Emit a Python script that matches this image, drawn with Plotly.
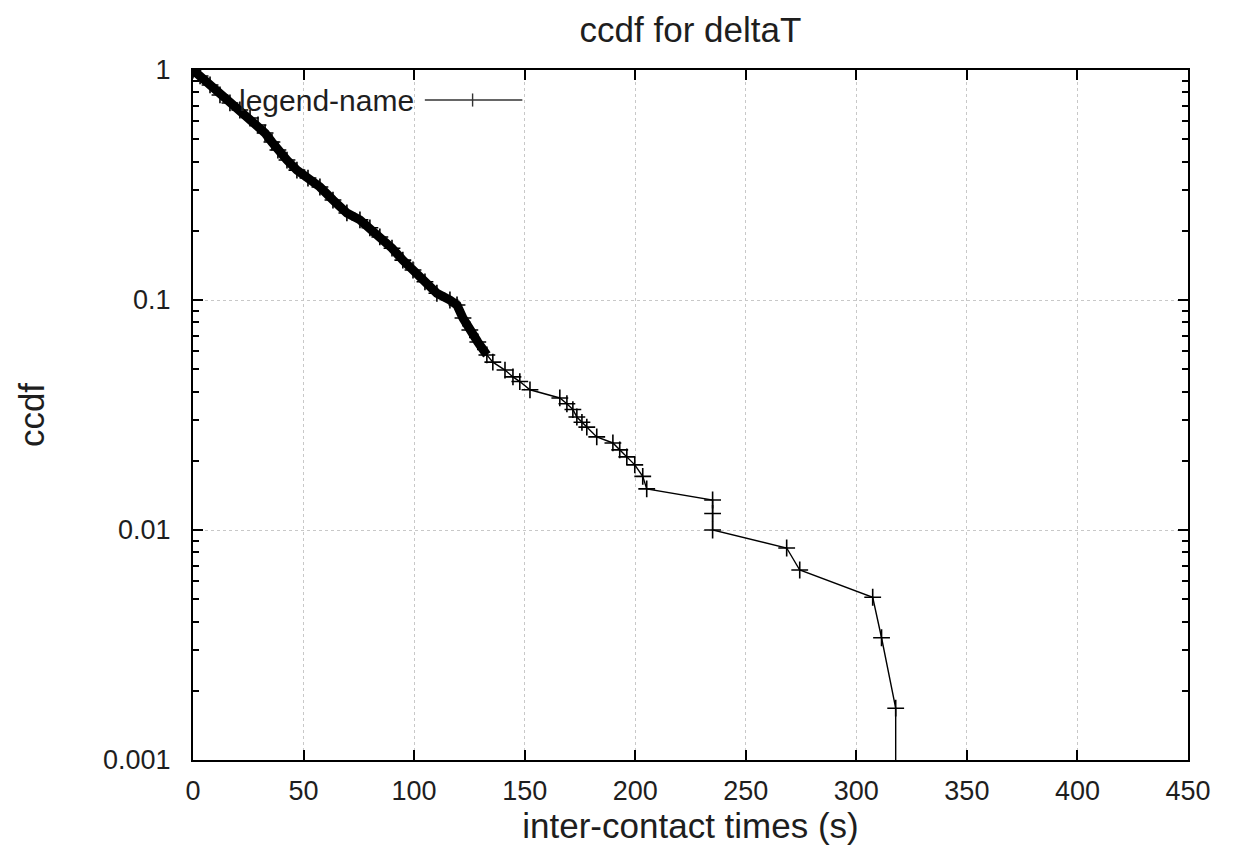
import plotly.graph_objects as go

# Values
times = [0, 3.2, 7.7, 12.2, 16.7, 21.2, 25.8, 29.4, 32.6, 35.7, 38.4, 42.5, 47.0, 52.0,
         57.4, 63.3, 69.6, 75.5, 80.0, 84.5, 90.0, 94.9, 99.5, 104.9, 110.3, 116.2,
         119.4, 122.1, 125.2, 128.8, 132.9,
         135.6, 141.1, 144.7, 147.8, 152.4, 165.9, 169.1, 171.8, 173.6, 175.9, 178.1,
         182.6, 189.9, 193.0, 196.2, 199.8, 203.4, 205.2,
         235.0, 235.0, 235.0, 268.5, 274.4, 307.4, 311.4, 317.8, 317.8]
ccdf = [1.0, 0.942, 0.861, 0.779, 0.719, 0.670, 0.618, 0.577, 0.532, 0.486, 0.449,
        0.406, 0.367, 0.339, 0.310, 0.272, 0.239, 0.223, 0.206, 0.188, 0.168, 0.149,
        0.135, 0.120, 0.107, 0.100, 0.0951, 0.0835, 0.0741, 0.0657, 0.0577,
        0.0537, 0.0496, 0.0463, 0.0442, 0.0407, 0.0375, 0.0354, 0.0334, 0.0310,
        0.0294, 0.0280, 0.0254, 0.0239, 0.0223, 0.0208, 0.0192, 0.0171, 0.0151,
        0.0135, 0.0118, 0.0100, 0.00835, 0.0067, 0.0051, 0.0034, 0.00168, 0.0008]
dense_count = 31  # points in the densely sampled head of the curve

x_ticks = [0, 50, 100, 150, 200, 250, 300, 350, 400, 450]
y_ticks = [0.001, 0.01, 0.1, 1]
y_tick_labels = ["0.001", "0.01", "0.1", "1"]
series_name = "legend-name"

FONT = "Liberation Sans, Arial, sans-serif"
TXT = "#1e1e1e"

fig = go.Figure()
# dense head drawn heavy (overlapping markers in the original)
fig.add_trace(go.Scatter(
    x=times[:dense_count], y=ccdf[:dense_count], mode="lines",
    line=dict(color="black", width=9), showlegend=False, hoverinfo="skip"))
fig.add_trace(go.Scatter(
    x=times, y=ccdf, mode="lines+markers", name=series_name,
    line=dict(color="black", width=1.4),
    marker=dict(symbol="cross-thin", size=12, line=dict(color="black", width=1.6)),
    showlegend=False))

# legend drawn gnuplot-style: label then line sample with marker
fig.add_annotation(xref="paper", yref="paper", x=0.224, y=0.9565, xanchor="right",
                   yanchor="middle", text=series_name, showarrow=False,
                   font=dict(family=FONT, size=30, color=TXT))
fig.add_shape(type="line", xref="paper", yref="paper", x0=0.233, x1=0.331,
              y0=0.9565, y1=0.9565, line=dict(color="#333", width=1.4))
fig.add_shape(type="line", xref="paper", yref="paper", x0=0.281, x1=0.281,
              y0=0.947, y1=0.966, line=dict(color="#333", width=1.4))

fig.update_layout(
    width=1226, height=851,
    margin=dict(l=185, r=46, t=62, b=99),
    paper_bgcolor="white", plot_bgcolor="white",
    title=dict(text="ccdf for deltaT", xref="paper", x=0.5, xanchor="center",
               y=0.974, yanchor="middle",
               font=dict(family=FONT, size=35, color=TXT)),
    font=dict(family=FONT, size=28, color=TXT),
)
fig.update_xaxes(
    range=[0, 450], tickvals=x_ticks, ticks="inside", ticklen=10, tickwidth=2,
    tickcolor="black", mirror="allticks", showline=True, linecolor="black", linewidth=2,
    showgrid=True, gridcolor="#c8c8c8", griddash="dot", gridwidth=1, zeroline=False,
    ticklabelstandoff=6, tickfont=dict(family=FONT, size=27, color=TXT),
    title=dict(text="inter-contact times (s)", font=dict(family=FONT, size=35, color=TXT),
               standoff=4),
)
fig.update_yaxes(
    type="log", range=[-3, 0], tickvals=y_ticks, ticktext=y_tick_labels,
    ticks="inside", ticklen=10, tickwidth=2, tickcolor="black", mirror="allticks",
    showline=True, linecolor="black", linewidth=2,
    showgrid=True, gridcolor="#c8c8c8", griddash="dot", gridwidth=1, zeroline=False,
    minor=dict(ticks="inside", ticklen=6, tickwidth=2, tickcolor="black", dtick="D1",
               showgrid=False),
    ticklabelstandoff=15, tickfont=dict(family=FONT, size=27, color=TXT),
    title=dict(text="ccdf", font=dict(family=FONT, size=35, color=TXT), standoff=48),
)

fig.write_html("out.html")
